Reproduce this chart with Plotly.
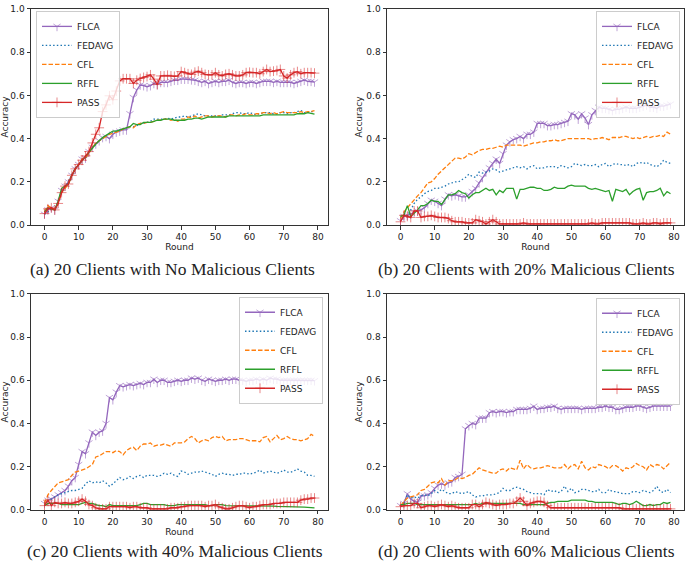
import plotly.graph_objects as go

rounds = list(range(80))
series_names = ["FLCA", "FEDAVG", "CFL", "RFFL", "PASS"]
captions = [
    "(a) 20 Clients with No Malicious Clients",
    "(b) 20 Clients with 20% Malicious Clients",
    "(c) 20 Clients with 40% Malicious Clients",
    "(d) 20 Clients with 60% Malicious Clients",
]
y_ticks = [0.0, 0.2, 0.4, 0.6, 0.8, 1.0]
x_ticks = [0, 10, 20, 30, 40, 50, 60, 70, 80]

# ---------------- Panel (a) ----------------
a_flca = [0.05,0.07,0.08,0.07,0.11,0.16,0.18,0.20,0.23,0.26,
          0.28,0.305,0.31,0.34,0.36,0.375,0.39,0.405,0.41,0.40,
          0.42,0.43,0.435,0.44,0.44,0.515,0.59,0.625,0.648,0.645,
          0.64,0.645,0.655,0.65,0.66,0.66,0.66,0.665,0.67,0.67,
          0.675,0.675,0.675,0.672,0.67,0.665,0.66,0.665,0.655,0.66,
          0.665,0.66,0.665,0.665,0.67,0.66,0.655,0.66,0.66,0.655,
          0.66,0.66,0.655,0.66,0.665,0.665,0.665,0.66,0.665,0.66,
          0.66,0.66,0.66,0.655,0.66,0.665,0.67,0.665,0.665,0.662]
a_fedavg = [0.05,0.06,0.075,0.07,0.11,0.15,0.17,0.20,0.23,0.265,
            0.28,0.30,0.31,0.335,0.355,0.375,0.39,0.40,0.41,0.425,
            0.43,0.435,0.44,0.445,0.45,0.455,0.455,0.46,0.47,0.47,
            0.475,0.48,0.49,0.49,0.49,0.49,0.495,0.49,0.495,0.50,
            0.50,0.505,0.50,0.505,0.51,0.515,0.51,0.505,0.505,0.505,
            0.505,0.505,0.51,0.51,0.51,0.515,0.52,0.52,0.515,0.515,
            0.52,0.515,0.51,0.515,0.52,0.52,0.52,0.515,0.515,0.52,
            0.52,0.515,0.52,0.52,0.525,0.53,0.52,0.52,0.525,0.525]
a_cfl = [0.06,0.09,0.08,0.07,0.10,0.15,0.17,0.19,0.23,0.26,
         0.28,0.305,0.31,0.335,0.36,0.38,0.39,0.40,0.41,0.42,
         0.425,0.43,0.435,0.445,0.45,0.455,0.45,0.465,0.47,0.47,
         0.475,0.475,0.48,0.485,0.485,0.49,0.49,0.485,0.49,0.48,
         0.49,0.49,0.50,0.495,0.505,0.495,0.50,0.505,0.505,0.50,
         0.505,0.505,0.505,0.50,0.51,0.51,0.505,0.51,0.51,0.515,
         0.51,0.51,0.515,0.515,0.52,0.52,0.515,0.52,0.515,0.52,
         0.525,0.52,0.52,0.52,0.52,0.525,0.52,0.525,0.525,0.53]
a_rffl = [0.06,0.08,0.075,0.07,0.11,0.17,0.18,0.19,0.23,0.26,
          0.28,0.30,0.315,0.335,0.36,0.375,0.39,0.405,0.415,0.425,
          0.435,0.435,0.44,0.445,0.45,0.455,0.47,0.465,0.465,0.475,
          0.475,0.475,0.48,0.485,0.485,0.49,0.49,0.49,0.485,0.485,
          0.485,0.485,0.49,0.49,0.495,0.495,0.49,0.495,0.50,0.50,
          0.50,0.50,0.50,0.50,0.505,0.505,0.505,0.505,0.505,0.505,
          0.505,0.505,0.505,0.505,0.51,0.51,0.51,0.51,0.51,0.51,
          0.51,0.51,0.51,0.51,0.515,0.515,0.515,0.52,0.515,0.513]
a_pass = [0.053,0.075,0.08,0.07,0.10,0.15,0.18,0.19,0.23,0.26,
          0.28,0.30,0.32,0.34,0.38,0.42,0.45,0.525,0.556,0.598,
          0.58,0.62,0.667,0.677,0.677,0.677,0.655,0.67,0.678,0.683,
          0.687,0.695,0.675,0.65,0.69,0.69,0.693,0.69,0.688,0.69,
          0.71,0.705,0.70,0.697,0.707,0.712,0.705,0.697,0.695,0.695,
          0.705,0.695,0.69,0.697,0.70,0.695,0.69,0.69,0.695,0.705,
          0.707,0.705,0.705,0.70,0.71,0.72,0.71,0.712,0.715,0.72,
          0.69,0.68,0.695,0.705,0.71,0.70,0.705,0.705,0.705,0.703]

# ---------------- Panel (b) ----------------
b_flca = [0.02,0.04,0.045,0.05,0.06,0.065,0.07,0.08,0.10,0.115,
          0.11,0.10,0.09,0.12,0.14,0.135,0.14,0.135,0.13,0.13,
          0.14,0.155,0.17,0.195,0.22,0.245,0.265,0.285,0.305,0.285,
          0.33,0.37,0.385,0.395,0.40,0.41,0.40,0.42,0.42,0.43,
          0.47,0.47,0.47,0.46,0.46,0.465,0.465,0.47,0.475,0.48,
          0.515,0.51,0.49,0.515,0.495,0.465,0.51,0.53,0.545,0.54,
          0.54,0.535,0.53,0.535,0.535,0.54,0.545,0.54,0.54,0.54,
          0.545,0.55,0.555,0.545,0.545,0.54,0.55,0.55,0.555,0.56]
b_fedavg = [0.04,0.05,0.04,0.07,0.10,0.12,0.13,0.145,0.155,0.16,
            0.17,0.17,0.175,0.18,0.19,0.195,0.20,0.20,0.21,0.22,
            0.235,0.225,0.22,0.245,0.24,0.245,0.25,0.26,0.255,0.245,
            0.25,0.255,0.26,0.265,0.27,0.265,0.27,0.26,0.27,0.275,
            0.26,0.265,0.265,0.27,0.27,0.27,0.265,0.275,0.27,0.265,
            0.27,0.285,0.28,0.275,0.28,0.275,0.275,0.28,0.27,0.28,
            0.285,0.27,0.28,0.285,0.28,0.28,0.275,0.28,0.27,0.285,
            0.29,0.285,0.29,0.28,0.275,0.27,0.28,0.30,0.29,0.285]
b_cfl = [0.03,0.06,0.08,0.10,0.115,0.135,0.15,0.17,0.195,0.20,
         0.215,0.235,0.25,0.265,0.28,0.295,0.31,0.31,0.305,0.315,
         0.33,0.325,0.335,0.345,0.35,0.35,0.355,0.355,0.36,0.365,
         0.36,0.37,0.37,0.37,0.37,0.37,0.365,0.37,0.375,0.38,
         0.38,0.385,0.385,0.39,0.39,0.395,0.39,0.39,0.395,0.40,
         0.40,0.40,0.40,0.40,0.40,0.40,0.395,0.40,0.40,0.405,
         0.40,0.395,0.405,0.405,0.405,0.41,0.41,0.405,0.40,0.405,
         0.40,0.405,0.41,0.405,0.41,0.41,0.415,0.41,0.43,0.42]
b_rffl = [0.04,0.045,0.09,0.04,0.055,0.07,0.09,0.09,0.10,0.115,
          0.11,0.11,0.095,0.12,0.14,0.14,0.145,0.16,0.15,0.145,
          0.125,0.14,0.15,0.15,0.16,0.17,0.16,0.165,0.14,0.16,
          0.15,0.17,0.17,0.17,0.12,0.165,0.165,0.17,0.175,0.175,
          0.17,0.17,0.16,0.16,0.165,0.175,0.17,0.17,0.17,0.18,
          0.185,0.18,0.18,0.18,0.18,0.17,0.165,0.17,0.165,0.16,
          0.155,0.16,0.11,0.165,0.16,0.155,0.165,0.14,0.155,0.165,
          0.17,0.115,0.15,0.155,0.155,0.16,0.17,0.135,0.155,0.145]
b_pass = [0.015,0.045,0.04,0.035,0.065,0.065,0.035,0.04,0.04,0.045,
          0.04,0.035,0.035,0.035,0.03,0.02,0.015,0.015,0.015,0.01,
          0.01,0.01,0.025,0.02,0.015,0.005,0.015,0.025,0.015,0.005,
          0.005,0.005,0.005,0.005,0.005,0.005,0.01,0.005,0.005,0.005,
          0.005,0.005,0.005,0.005,0.005,0.005,0.005,0.005,0.005,0.005,
          0.005,0.005,0.005,0.005,0.005,0.005,0.01,0.005,0.005,0.01,
          0.01,0.01,0.01,0.01,0.01,0.01,0.01,0.01,0.005,0.005,
          0.005,0.01,0.005,0.005,0.01,0.01,0.005,0.01,0.01,0.01]

# ---------------- Panel (c) ----------------
c_flca = [0.03,0.045,0.05,0.06,0.07,0.08,0.09,0.11,0.135,0.15,
          0.21,0.27,0.26,0.31,0.36,0.345,0.36,0.365,0.40,0.52,
          0.51,0.545,0.575,0.57,0.575,0.58,0.575,0.58,0.585,0.58,
          0.59,0.59,0.605,0.59,0.60,0.60,0.59,0.59,0.595,0.60,
          0.595,0.60,0.60,0.61,0.605,0.61,0.60,0.595,0.605,0.60,
          0.595,0.60,0.60,0.605,0.60,0.605,0.605,0.60,0.60,0.595,
          0.60,0.60,0.605,0.60,0.605,0.60,0.61,0.605,0.605,0.60,
          0.60,0.60,0.60,0.60,0.60,0.60,0.60,0.60,0.60,0.598]
c_fedavg = [0.03,0.04,0.05,0.06,0.07,0.075,0.08,0.085,0.09,0.09,
            0.095,0.10,0.12,0.135,0.125,0.13,0.125,0.135,0.125,0.11,
            0.12,0.135,0.15,0.14,0.145,0.155,0.145,0.155,0.16,0.15,
            0.16,0.16,0.16,0.155,0.16,0.17,0.165,0.17,0.16,0.155,
            0.18,0.175,0.165,0.17,0.175,0.175,0.18,0.175,0.17,0.165,
            0.155,0.165,0.17,0.165,0.165,0.16,0.165,0.165,0.17,0.17,
            0.165,0.17,0.175,0.185,0.17,0.175,0.18,0.175,0.17,0.175,
            0.185,0.175,0.175,0.18,0.19,0.18,0.175,0.16,0.16,0.155]
c_cfl = [0.03,0.07,0.09,0.11,0.125,0.13,0.135,0.14,0.16,0.175,
         0.18,0.185,0.19,0.20,0.21,0.245,0.25,0.26,0.27,0.27,
         0.265,0.275,0.27,0.255,0.275,0.285,0.29,0.275,0.295,0.305,
         0.305,0.31,0.295,0.30,0.30,0.305,0.30,0.295,0.31,0.31,
         0.31,0.315,0.33,0.34,0.33,0.31,0.32,0.325,0.32,0.335,
         0.34,0.335,0.34,0.32,0.325,0.325,0.325,0.33,0.33,0.325,
         0.32,0.32,0.32,0.315,0.335,0.34,0.315,0.33,0.345,0.325,
         0.33,0.34,0.33,0.325,0.325,0.32,0.325,0.33,0.35,0.34]
c_rffl = [0.02,0.03,0.03,0.03,0.03,0.025,0.025,0.025,0.025,0.025,
          0.025,0.03,0.035,0.03,0.03,0.025,0.02,0.02,0.015,0.025,
          0.02,0.02,0.02,0.02,0.02,0.02,0.02,0.02,0.025,0.03,
          0.03,0.025,0.025,0.025,0.025,0.025,0.02,0.02,0.02,0.025,
          0.025,0.025,0.025,0.025,0.025,0.025,0.025,0.025,0.02,0.02,
          0.025,0.025,0.025,0.02,0.02,0.02,0.02,0.02,0.02,0.02,
          0.02,0.02,0.02,0.02,0.02,0.018,0.018,0.018,0.016,0.016,
          0.015,0.015,0.015,0.014,0.014,0.013,0.013,0.012,0.011,0.01]
c_pass = [0.02,0.045,0.02,0.035,0.03,0.03,0.035,0.03,0.03,0.035,
          0.04,0.05,0.04,0.025,0.02,0.01,0.005,0.005,0.005,0.015,
          0.015,0.015,0.015,0.015,0.015,0.01,0.015,0.015,0.01,0.01,
          0.01,0.005,0.005,0.005,0.005,0.005,0.005,0.01,0.01,0.01,
          0.015,0.015,0.02,0.02,0.02,0.02,0.02,0.015,0.02,0.02,
          0.025,0.015,0.01,0.005,0.005,0.01,0.015,0.02,0.02,0.015,
          0.01,0.015,0.015,0.02,0.025,0.025,0.025,0.03,0.03,0.03,
          0.035,0.035,0.035,0.035,0.035,0.045,0.05,0.05,0.055,0.055]

# ---------------- Panel (d) ----------------
d_flca = [0.02,0.03,0.075,0.05,0.04,0.035,0.065,0.065,0.07,0.08,
          0.10,0.115,0.12,0.115,0.125,0.13,0.15,0.155,0.165,0.375,
          0.39,0.40,0.395,0.425,0.425,0.425,0.45,0.455,0.45,0.455,
          0.455,0.45,0.455,0.455,0.465,0.465,0.465,0.465,0.47,0.48,
          0.465,0.47,0.47,0.475,0.475,0.48,0.47,0.465,0.47,0.47,
          0.47,0.47,0.47,0.465,0.47,0.47,0.47,0.47,0.475,0.475,
          0.48,0.475,0.475,0.465,0.465,0.47,0.475,0.475,0.475,0.48,
          0.48,0.475,0.47,0.475,0.48,0.48,0.48,0.48,0.48,0.48]
d_fedavg = [0.02,0.03,0.07,0.055,0.06,0.055,0.065,0.07,0.065,0.075,
            0.09,0.08,0.095,0.085,0.075,0.075,0.085,0.08,0.075,0.08,
            0.085,0.07,0.06,0.065,0.065,0.07,0.07,0.07,0.075,0.08,
            0.10,0.09,0.09,0.10,0.105,0.10,0.095,0.085,0.08,0.075,
            0.075,0.075,0.07,0.095,0.085,0.09,0.08,0.085,0.11,0.085,
            0.10,0.08,0.085,0.095,0.095,0.09,0.085,0.085,0.095,0.08,
            0.08,0.095,0.085,0.085,0.08,0.075,0.075,0.075,0.085,0.085,
            0.08,0.09,0.085,0.08,0.09,0.11,0.085,0.08,0.095,0.08]
d_cfl = [0.02,0.04,0.055,0.06,0.065,0.07,0.09,0.095,0.11,0.125,
         0.13,0.125,0.145,0.115,0.135,0.135,0.14,0.15,0.145,0.15,
         0.16,0.165,0.18,0.195,0.185,0.18,0.175,0.17,0.17,0.185,
         0.19,0.18,0.195,0.19,0.185,0.23,0.19,0.21,0.195,0.19,
         0.195,0.195,0.20,0.205,0.20,0.195,0.195,0.195,0.21,0.19,
         0.205,0.21,0.19,0.225,0.195,0.185,0.20,0.195,0.21,0.205,
         0.20,0.19,0.205,0.205,0.195,0.18,0.195,0.19,0.20,0.215,
         0.205,0.20,0.185,0.21,0.20,0.21,0.205,0.19,0.205,0.22]
d_rffl = [0.025,0.025,0.03,0.03,0.03,0.025,0.025,0.025,0.025,0.025,
          0.025,0.025,0.025,0.025,0.025,0.025,0.025,0.025,0.025,0.025,
          0.025,0.025,0.03,0.025,0.03,0.03,0.03,0.03,0.03,0.03,
          0.03,0.03,0.03,0.03,0.03,0.03,0.025,0.025,0.025,0.025,
          0.025,0.025,0.025,0.03,0.035,0.035,0.04,0.04,0.04,0.04,
          0.045,0.045,0.045,0.045,0.045,0.04,0.04,0.035,0.035,0.035,
          0.035,0.035,0.035,0.03,0.025,0.03,0.03,0.025,0.03,0.04,
          0.03,0.02,0.02,0.025,0.02,0.025,0.025,0.035,0.03,0.035]
d_pass = [0.015,0.02,0.02,0.02,0.03,0.03,0.01,0.015,0.02,0.02,
          0.015,0.02,0.025,0.02,0.015,0.02,0.015,0.01,0.01,0.01,
          0.01,0.025,0.025,0.015,0.025,0.035,0.03,0.025,0.02,0.025,
          0.025,0.025,0.03,0.03,0.04,0.055,0.04,0.02,0.03,0.035,
          0.04,0.04,0.035,0.02,0.01,0.01,0.01,0.01,0.01,0.01,
          0.01,0.01,0.01,0.01,0.01,0.01,0.01,0.01,0.01,0.01,
          0.01,0.01,0.01,0.01,0.01,0.005,0.005,0.005,0.005,0.005,
          0.005,0.005,0.005,0.005,0.005,0.005,0.005,0.005,0.005,0.005]

panels = [
    [a_flca, a_fedavg, a_cfl, a_rffl, a_pass],
    [b_flca, b_fedavg, b_cfl, b_rffl, b_pass],
    [c_flca, c_fedavg, c_cfl, c_rffl, c_pass],
    [d_flca, d_fedavg, d_cfl, d_rffl, d_pass],
]

# ---------------- styling ----------------
W, H = 685, 567
styles = {
    "FLCA":   dict(line=dict(color="#9467bd", width=1.3),
                   marker=dict(symbol="y-down-open", size=6, color="rgba(148,103,189,0.6)",
                               line=dict(color="rgba(148,103,189,0.6)", width=1)),
                   mode="lines+markers"),
    "FEDAVG": dict(line=dict(color="#1f77b4", width=1.3, dash="1.5px,2.2px"), mode="lines"),
    "CFL":    dict(line=dict(color="#ff7f0e", width=1.3, dash="4.5px,2px"), mode="lines"),
    "RFFL":   dict(line=dict(color="#2ca02c", width=1.3), mode="lines"),
    "PASS":   dict(line=dict(color="#d62728", width=1.3),
                   marker=dict(symbol="cross-thin-open", size=7, color="rgba(214,39,40,0.55)",
                               line=dict(color="rgba(214,39,40,0.55)", width=1)),
                   mode="lines+markers"),
}

def px_x(p):
    return p / W

def px_y(p):
    return 1 - p / H

col_domains = [[px_x(31), px_x(328)], [px_x(387), px_x(684)]]
row_domains = [[px_y(224), px_y(4)], [px_y(514), px_y(294)]]

fig = go.Figure()
legend_keys = ["legend", "legend2", "legend3", "legend4"]

for i, series in enumerate(panels):
    ax = "" if i == 0 else str(i + 1)
    for name, vals in zip(series_names, series):
        st = styles[name]
        kw = dict(x=rounds, y=vals, name=name, mode=st["mode"], line=st["line"],
                  xaxis="x" + ax, yaxis="y" + ax, legend=legend_keys[i])
        if "marker" in st:
            kw["marker"] = st["marker"]
        fig.add_trace(go.Scatter(**kw))

tick_font = dict(family="DejaVu Sans", size=9, color="#222")
layout = dict(
    width=W, height=H,
    margin=dict(l=0, r=0, t=0, b=0),
    paper_bgcolor="white", plot_bgcolor="white",
    showlegend=True,
)
for i in range(4):
    r, c = divmod(i, 2)
    ax = "" if i == 0 else str(i + 1)
    layout["xaxis" + ax] = dict(
        domain=col_domains[c], anchor="y" + ax, range=[-3.95, 82.95],
        tickvals=x_ticks, ticks="outside", ticklen=3.5, tickwidth=1, tickcolor="#333",
        showline=True, linecolor="#333", linewidth=1, mirror=True,
        showgrid=False, zeroline=False, tickfont=tick_font,
        title=dict(text="Round", font=tick_font, standoff=1),
    )
    layout["yaxis" + ax] = dict(
        domain=row_domains[r], anchor="x" + ax, range=[0, 1.0],
        tickvals=y_ticks, tickformat=".1f", ticks="outside", ticklen=3.5, tickwidth=1,
        tickcolor="#333", showline=True, linecolor="#333", linewidth=1, mirror=True,
        showgrid=False, zeroline=False, tickfont=tick_font,
        title=dict(text="Accuracy", font=tick_font, standoff=2),
    )

legend_common = dict(bgcolor="rgba(255,255,255,0.8)", bordercolor="#cccccc", borderwidth=1,
                     font=dict(family="DejaVu Sans", size=9, color="#222"),
                     itemwidth=30, tracegroupgap=0, yanchor="top")
layout["legend"] = dict(legend_common, x=px_x(36), y=px_y(6), xanchor="left")
layout["legend2"] = dict(legend_common, x=px_x(680), y=px_y(6), xanchor="right")
layout["legend3"] = dict(legend_common, x=px_x(323), y=px_y(297), xanchor="right")
layout["legend4"] = dict(legend_common, x=px_x(680), y=px_y(298), xanchor="right")

cap_pos = [(172, 269), (526, 269), (175, 556), (526, 556)]
annotations = []
for text, (cx, cy) in zip(captions, cap_pos):
    annotations.append(dict(text=text, x=px_x(cx), y=px_y(cy), xref="paper", yref="paper",
                            xanchor="center", yanchor="middle", showarrow=False,
                            font=dict(family="Liberation Serif", size=17.5, color="#222")))
layout["annotations"] = annotations

fig.update_layout(**layout)
fig.write_html("out.html",
               config={"displayModeBar": False},
               post_script="document.body.style.margin='0';document.body.style.padding='0';")
